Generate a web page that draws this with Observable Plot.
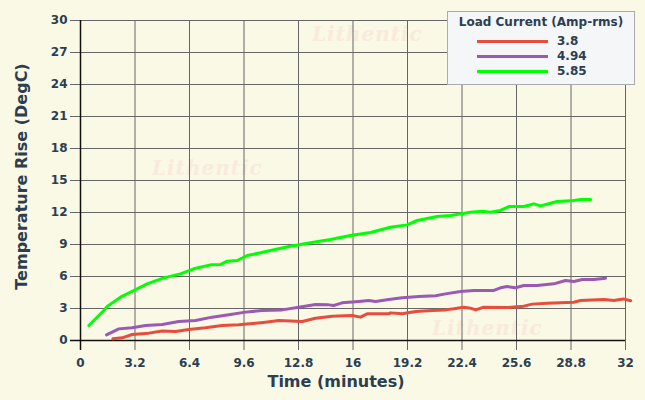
<!DOCTYPE html>
<html><head><meta charset="utf-8">
<script src="https://cdn.jsdelivr.net/npm/d3@7"></script>
<script src="https://cdn.jsdelivr.net/npm/@observablehq/plot@0.6"></script>
<style>
html,body{margin:0;padding:0;background:#FAF9E5;}
#wrap{position:relative;width:645px;height:400px;overflow:hidden;}
#chart{position:absolute;left:0;top:0;z-index:1;}
#chart svg{background:transparent;}
.wm{position:absolute;z-index:0;font-family:"DejaVu Serif",serif;font-style:italic;font-weight:bold;font-size:20px;color:#F8EADC;letter-spacing:1px;}
#legend{position:absolute;z-index:2;left:447px;top:11px;width:188px;height:74px;background:#F4F6F8;border:1px solid #A9ABB0;box-sizing:border-box;font-family:"DejaVu Sans",sans-serif;color:#2c3e50;}
#legend .title{position:absolute;left:0;right:0;top:3px;text-align:center;font-size:12px;font-weight:bold;}
#legend .row{position:absolute;left:0;height:14px;}
#legend .sw{position:absolute;left:29px;top:5px;width:71px;height:3px;}
#legend .lb{position:absolute;left:109px;top:-1px;font-size:12px;font-weight:bold;white-space:nowrap;}
</style>
</head><body>
<div id="wrap">
  <div class="wm" style="left:312px;top:22px;">Lithentic</div>
  <div class="wm" style="left:152px;top:156px;">Lithentic</div>
  <div class="wm" style="left:432px;top:316px;">Lithentic</div>
  <div id="chart"></div>
  <div id="legend"><div class="title">Load Current (Amp-rms)</div></div>
</div>
<script>
// Series names and colours
const series = ["3.8", "4.94", "5.85"];
const colors = ["#E74C3C", "#9B59B6", "#00FF00"];
const legendTitle = "Load Current (Amp-rms)";
const xLabel = "Time (minutes)";
const yLabel = "Temperature Rise (DegC)";

// Axis ticks
const xTicks = [0, 3.2, 6.4, 9.6, 12.8, 16, 19.2, 22.4, 25.6, 28.8, 32];
const xTickLabels = ["0", "3.2", "6.4", "9.6", "12.8", "16", "19.2", "22.4", "25.6", "28.8", "32"];
const yTicks = [0, 3, 6, 9, 12, 15, 18, 21, 24, 27, 30];

// 3.8 A
const t38 = [1.9, 2.45, 3.03, 4.01, 4.8, 5.58, 6.36, 7.34, 8.32, 9.29, 10.28, 10.86, 11.65, 13.02, 13.8, 14.78, 15.95, 16.44, 16.83, 18.1, 18.2, 18.89, 19.67, 20.65, 21.43, 21.92, 22.51, 22.9, 23.2, 23.68, 25.05, 26.03, 26.52, 27.4, 28.96, 29.36, 30.73, 31.31, 31.87, 32.3];
const v38 = [0.16, 0.25, 0.56, 0.69, 0.9, 0.84, 1.03, 1.19, 1.41, 1.47, 1.62, 1.72, 1.875, 1.78, 2.09, 2.28, 2.34, 2.19, 2.5, 2.5, 2.59, 2.5, 2.72, 2.81, 2.87, 2.97, 3.12, 3.03, 2.87, 3.12, 3.09, 3.22, 3.41, 3.5, 3.59, 3.75, 3.84, 3.75, 3.9, 3.72];

// 4.94 A
const t494 = [1.53, 2.25, 3.03, 3.82, 4.8, 5.77, 6.75, 7.73, 8.71, 9.69, 10.67, 11.84, 12.82, 13.8, 14.58, 14.87, 15.36, 16.34, 16.93, 17.32, 18.1, 18.89, 19.87, 20.85, 21.43, 22.31, 23.1, 24.27, 24.66, 25.05, 25.54, 26.03, 26.81, 27.79, 28.48, 28.96, 29.46, 30.14, 30.83];
const v494 = [0.53, 1.09, 1.19, 1.41, 1.5, 1.78, 1.875, 2.19, 2.41, 2.66, 2.81, 2.87, 3.12, 3.37, 3.34, 3.28, 3.53, 3.66, 3.75, 3.66, 3.84, 4.0, 4.12, 4.19, 4.37, 4.59, 4.69, 4.69, 4.94, 5.06, 4.94, 5.16, 5.16, 5.31, 5.62, 5.53, 5.72, 5.72, 5.84];

// 5.85 A
const t585 = [0.49, 1.37, 1.57, 2.35, 3.13, 3.91, 4.89, 5.87, 6.65, 7.63, 8.22, 8.61, 9.2, 9.79, 10.57, 11.16, 12.33, 13.5, 14.68, 15.85, 17.03, 18.2, 19.18, 19.77, 20.94, 21.73, 22.9, 23.59, 24.07, 24.66, 25.15, 26.03, 26.62, 27.01, 27.6, 27.99, 28.77, 29.36, 29.95];
const v585 = [1.41, 2.81, 3.2, 4.06, 4.69, 5.31, 5.87, 6.25, 6.72, 7.09, 7.12, 7.44, 7.5, 7.97, 8.22, 8.44, 8.84, 9.16, 9.47, 9.84, 10.13, 10.62, 10.84, 11.25, 11.62, 11.72, 12.03, 12.12, 12.03, 12.19, 12.56, 12.56, 12.81, 12.62, 12.87, 13.03, 13.09, 13.22, 13.22];

const seriesT = [t38, t494, t585];
const seriesV = [v38, v494, v585];
const rows = [];
series.forEach((s, k) => seriesT[k].forEach((t, i) => rows.push({s, t, v: seriesV[k][i]})));

const chart = Plot.plot({
  width: 645, height: 400,
  marginLeft: 80, marginRight: 20, marginTop: 20, marginBottom: 60,
  style: {background: "transparent", fontFamily: "DejaVu Sans, sans-serif", fontSize: "12px", fontWeight: "bold", color: "#2c3e50", overflow: "visible"},
  x: {domain: [0, 32]},
  y: {domain: [0, 30]},
  color: {domain: series, range: colors},
  marks: [
    Plot.gridX(xTicks, {stroke: "#666", strokeOpacity: 1}),
    Plot.gridY(yTicks, {stroke: "#666", strokeOpacity: 1}),
    Plot.axisX(xTicks, {tickFormat: d => xTickLabels[xTicks.indexOf(d)], tickSize: 10, tickPadding: 8, stroke: "#666", label: null}),
    Plot.axisY(yTicks, {tickSize: 10, tickPadding: 3, stroke: "#666", label: null}),
    Plot.text([xLabel], {text: d => d, frameAnchor: "bottom", lineAnchor: "middle", textAnchor: "middle", dy: 41, dx: -17, fontSize: 16, fontWeight: "bold", fill: "#2c3e50"}),
    Plot.text([yLabel], {text: d => d, frameAnchor: "left", lineAnchor: "middle", textAnchor: "middle", rotate: -90, dx: -59, dy: -4, fontSize: 16, fontWeight: "bold", fill: "#2c3e50"}),
    Plot.ruleY([0], {stroke: "#111", strokeWidth: 1.5, insetLeft: -10}),
    Plot.ruleX([0], {stroke: "#111", strokeWidth: 1.5, insetBottom: -10}),
    Plot.line(rows, {x: "t", y: "v", z: "s", stroke: "s", strokeWidth: 3, clip: false})
  ]
});
document.getElementById("chart").appendChild(chart);

const legend = document.getElementById("legend");
legend.querySelector(".title").textContent = legendTitle;
series.forEach((s, i) => {
  const row = document.createElement("div");
  row.className = "row";
  row.style.top = (23 + i * 15) + "px";
  row.style.width = "100%";
  const sw = document.createElement("div");
  sw.className = "sw";
  sw.style.background = colors[i];
  const lb = document.createElement("div");
  lb.className = "lb";
  lb.textContent = s;
  row.appendChild(sw); row.appendChild(lb);
  legend.appendChild(row);
});
</script>
</body></html>
